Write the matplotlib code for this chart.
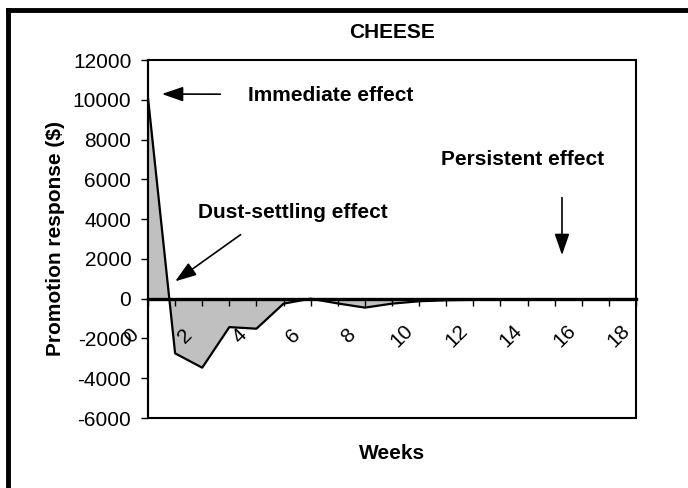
import matplotlib
matplotlib.use('Agg')
import matplotlib.pyplot as plt
import matplotlib.transforms as mtransforms
from matplotlib.lines import Line2D
from matplotlib.patches import Rectangle

plt.rcParams['font.family'] = ['Liberation Sans', 'DejaVu Sans']

weeks = list(range(19))
response = [10100, -2750, -3470, -1430, -1510, -250, 0, -240, -450, -250,
            -130, -80, -60, -50, -40, -30, -30, -20, -20]
yticks = [-6000, -4000, -2000, 0, 2000, 4000, 6000, 8000, 10000, 12000]
xticks_labeled = [0, 2, 4, 6, 8, 10, 12, 14, 16, 18]

fig = plt.figure(figsize=(6.88, 4.88), dpi=100)
ax = fig.add_axes([148/688, 1 - 418/488, 488/688, 358/488])

ax.fill_between(weeks, response, 0, color='#C0C0C0', lw=0)
ax.plot(weeks, response, color='black', lw=1.6)

ax.set_xlim(0, 18)
ax.set_ylim(-6000, 12000)
ax.set_yticks(yticks)
ax.set_yticklabels([str(v) for v in yticks], fontsize=15)
ax.tick_params(axis='y', direction='out', length=5, width=1, pad=7)

# x axis sits on the zero line
ax.spines['bottom'].set_position(('data', 0))
ax.spines['bottom'].set_linewidth(2.4)
ax.spines['top'].set_visible(False)
ax.spines['right'].set_visible(False)
ax.spines['left'].set_linewidth(1.5)
ax.add_patch(Rectangle((0, 0), 1, 1, transform=ax.transAxes, fill=False,
                       lw=1.5, ec='black', clip_on=False, zorder=5))

ax.set_xticks(xticks_labeled)
ax.set_xticks(weeks, minor=True)
ax.set_xticklabels([str(v) for v in xticks_labeled], fontsize=15,
                   rotation=45, ha='center', va='center', rotation_mode='anchor')
ax.tick_params(axis='x', which='both', direction='out', length=5, width=1, pad=22)
offset = mtransforms.ScaledTranslation(-0.17, 0, fig.dpi_scale_trans)
for lbl in ax.get_xticklabels():
    lbl.set_transform(lbl.get_transform() + offset)

ax.set_title('CHEESE', fontsize=15, fontweight='bold', y=1.076, va='center', pad=0)
ax.set_xlabel('Weeks', fontsize=15, fontweight='bold', va='center')
ax.xaxis.set_label_coords(0.5, -0.098)
ax.set_ylabel('Promotion response ($)', fontsize=15, fontweight='bold', va='center')
ax.yaxis.set_label_coords(-0.19, 0.5)

arrow = dict(arrowstyle='-|>,head_length=1.3,head_width=0.45', color='black', lw=1.2)
ax.annotate('', xy=(0.41, 10290), xytext=(2.77, 10280), arrowprops=arrow)
ax.text(3.69, 10240, 'Immediate effect', fontsize=15, fontweight='bold', va='center')
ax.annotate('', xy=(0.92, 790), xytext=(3.50, 3300), arrowprops=arrow)
ax.text(1.84, 4310, 'Dust-settling effect', fontsize=15, fontweight='bold', va='center')
ax.annotate('', xy=(15.27, 2050), xytext=(15.27, 5220), arrowprops=arrow)
ax.text(10.81, 7020, 'Persistent effect', fontsize=15, fontweight='bold', va='center')

# outer chart frame (only top and left edges visible)
fig.add_artist(Line2D([8/688, 1], [1 - 10/488, 1 - 10/488], color='black', lw=3.5))
fig.add_artist(Line2D([8/688, 8/688], [0, 1 - 10/488], color='black', lw=3.5))

fig.savefig('out.png', dpi=100)
